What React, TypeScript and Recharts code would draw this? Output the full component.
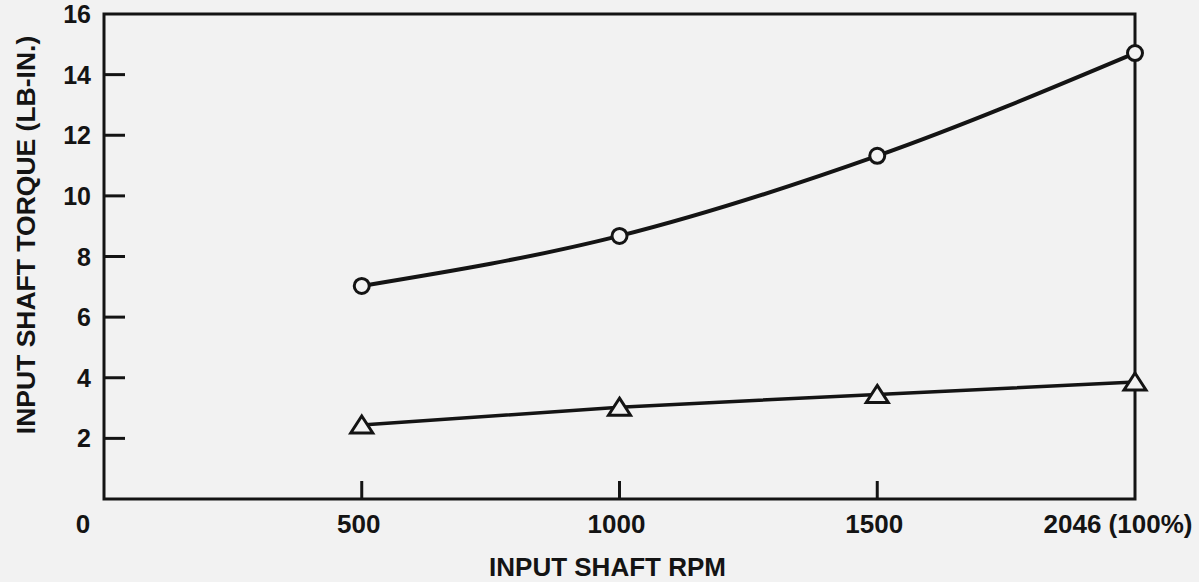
import React from 'react';
import { LineChart, Line, XAxis, YAxis, ReferenceArea, Label } from 'recharts';

// input shaft rpm (category positions), 0 is only an axis anchor
const rpm = [0, 500, 1000, 1500, 2046];
const xTickLabels = ['0', '500', '1000', '1500', '2046 (100%)'];
const torqueCircle = [null, 7.03, 8.68, 11.32, 14.71];
const torqueTriangle = [null, 2.44, 3.03, 3.45, 3.86];
const yTicks = [2, 4, 6, 8, 10, 12, 14, 16];

const data = rpm.map((r, i) => ({
  rpm: r,
  circle: torqueCircle[i],
  triangle: torqueTriangle[i],
}));

const INK = '#141414';
const BG = '#f2f2f2';
const FONT = '"Liberation Sans", Arial, sans-serif';

const XTick = ({ x, y, index }: any) => {
  const shift = index === 0 ? -21 : index === 4 ? -17 : -3;
  return (
    <g>
      {index > 0 && index < 4 && (
        <line x1={x} y1={y} x2={x} y2={y - 18} stroke={INK} strokeWidth={3} />
      )}
      <text x={x + shift} y={y + 34} textAnchor="middle" fontFamily={FONT} fontWeight="bold" fontSize={26} fill={INK}>
        {xTickLabels[index]}
      </text>
    </g>
  );
};

const YTick = ({ x, y, payload }: any) => (
  <g>
    {payload.value < 16 && <line x1={x} y1={y} x2={x + 21} y2={y} stroke={INK} strokeWidth={3} />}
    <text x={x - 13} y={y + 9} textAnchor="end" fontFamily={FONT} fontWeight="bold" fontSize={25} fill={INK}>
      {payload.value}
    </text>
  </g>
);

const CircleDot = ({ cx, cy }: any) => {
  if (cy == null || isNaN(cy)) return null;
  return <circle cx={cx} cy={cy} r={7.5} fill={BG} stroke={INK} strokeWidth={3} />;
};

const TriangleDot = ({ cx, cy }: any) => {
  if (cy == null || isNaN(cy)) return null;
  const pts = `${cx},${cy - 9} ${cx + 11},${cy + 8} ${cx - 11},${cy + 8}`;
  return <polygon points={pts} fill={BG} stroke={INK} strokeWidth={3} strokeLinejoin="miter" />;
};

export default function App() {
  return (
    <div style={{ position: 'absolute', left: 0, top: 0, width: 1199, height: 582, background: BG }}>
      <LineChart width={1199} height={582} data={data} margin={{ top: 14, right: 64, bottom: 0, left: 0 }}>
        <XAxis
          dataKey="rpm"
          type="category"
          height={83}
          axisLine={false}
          tickLine={false}
          tickSize={0}
          tickMargin={0}
          interval={0}
          tick={<XTick />}
        >
          <Label
            content={({ viewBox }: any) => (
              <text
                x={viewBox.x + viewBox.width / 2 - 12}
                y={viewBox.y + 77}
                textAnchor="middle"
                fontFamily={FONT}
                fontWeight="bold"
                fontSize={26}
                fill={INK}
              >
                INPUT SHAFT RPM
              </text>
            )}
          />
        </XAxis>
        <YAxis
          type="number"
          domain={[0, 16]}
          ticks={yTicks}
          width={104}
          axisLine={false}
          tickLine={false}
          tickSize={0}
          tickMargin={0}
          interval={0}
          tick={<YTick />}
        >
          <Label
            content={() => (
              <text
                x={35}
                y={235}
                transform="rotate(-90 35 235)"
                textAnchor="middle"
                fontFamily={FONT}
                fontWeight="bold"
                fontSize={26.5}
                fill={INK}
              >
                INPUT SHAFT TORQUE (LB-IN.)
              </text>
            )}
          />
        </YAxis>
        <ReferenceArea x1={0} x2={2046} y1={0} y2={16} fill="none" stroke={INK} strokeWidth={3} ifOverflow="visible" />
        <Line
          dataKey="circle"
          type="monotone"
          stroke={INK}
          strokeWidth={4}
          dot={<CircleDot />}
          activeDot={false}
          isAnimationActive={false}
        />
        <Line
          dataKey="triangle"
          type="linear"
          stroke={INK}
          strokeWidth={3.5}
          dot={<TriangleDot />}
          activeDot={false}
          isAnimationActive={false}
        />
      </LineChart>
    </div>
  );
}
